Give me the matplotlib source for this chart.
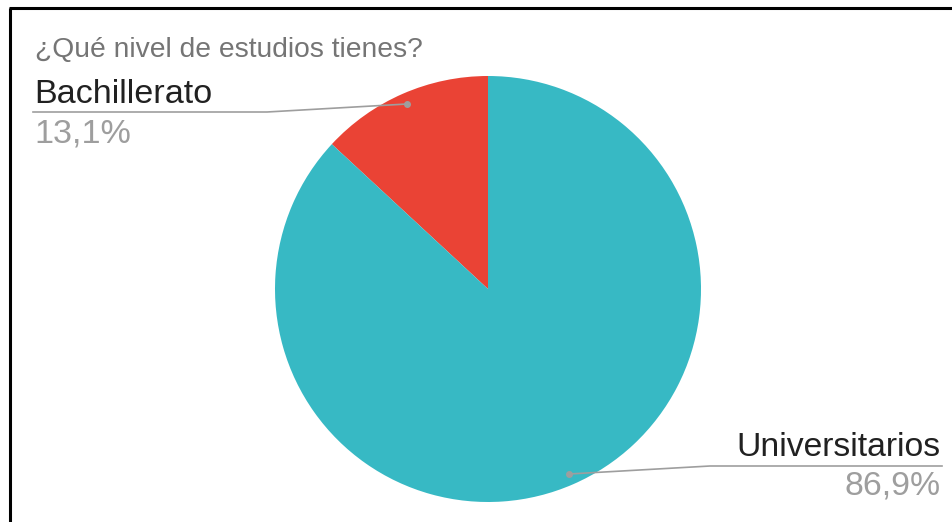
import matplotlib
matplotlib.use("Agg")
import matplotlib.pyplot as plt

# data
labels = ["Bachillerato", "Universitarios"]
values = [13.1, 86.9]
pct_labels = ["13,1%", "86,9%"]
colors = ["#EA4335", "#37B9C4"]
title = "¿Qué nivel de estudios tienes?"

W, H = 953, 522
plt.rcParams['font.family'] = ['Liberation Sans', 'DejaVu Sans']

fig = plt.figure(figsize=(W / 100, H / 100), dpi=100)
ax = fig.add_axes([0, 0, 1, 1])


def py(y):
    # pixel y (from top) to data y
    return H - y


ax.pie(values, colors=colors, startangle=90, counterclock=True,
       center=(488, py(289)), radius=213, frame=True,
       wedgeprops=dict(linewidth=0))
ax.set_xlim(0, W)
ax.set_ylim(0, H)
ax.set_aspect('equal')
ax.axis('off')

# frame lines (top and left)
ax.plot([9, W], [py(8), py(8)], color='black', lw=2.2, solid_capstyle='butt')
ax.plot([10, 10], [py(8), 0], color='black', lw=2.2, solid_capstyle='butt')

ax.text(35, py(57), title, fontsize=20.3, color='#757575', va='baseline', ha='left')

line_col = '#9E9E9E'
# Bachillerato label
ax.plot([33, 267, 407], [py(112), py(112), py(104)], color=line_col, lw=1.2)
ax.plot(407, py(104), 'o', color=line_col, ms=4)
ax.text(34, py(103), labels[0], fontsize=24.6, color='#212121', va='baseline', ha='left')
ax.text(34, py(142), pct_labels[0], fontsize=24.6, color='#9E9E9E', va='baseline', ha='left')

# Universitarios label
ax.plot([942, 710, 569], [py(466), py(466), py(474)], color=line_col, lw=1.2)
ax.plot(569, py(474), 'o', color=line_col, ms=4)
ax.text(941, py(456), labels[1], fontsize=24.3, color='#212121', va='baseline', ha='right')
ax.text(941, py(495), pct_labels[1], fontsize=24.3, color='#9E9E9E', va='baseline', ha='right')

fig.savefig("out.png", dpi=100, facecolor='white')
